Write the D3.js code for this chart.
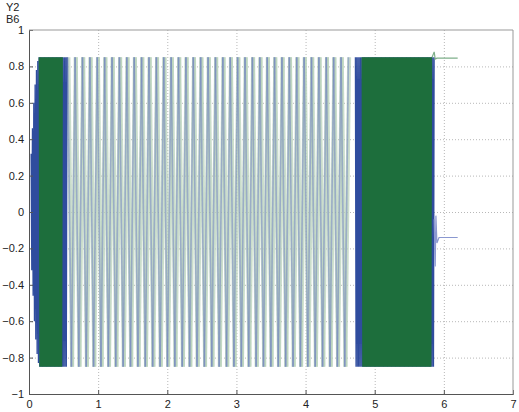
<!DOCTYPE html>
<head>
<meta charset="utf-8">
<title>Y2 B6</title>
<script src="https://d3js.org/d3.v7.min.js"></script>
</head>
<style>
body { margin: 0; background: #fff; }
text { font-family: "Liberation Sans", Arial, sans-serif; font-size: 11px; fill: #222; }
.grid line { stroke: #b8b8b8; stroke-dasharray: 1,2; }
</style>
<body>
<svg id="chart"></svg>
<script>
// axes
var xTicks = [0, 1, 2, 3, 4, 5, 6, 7];
var yTicks = [-1, -0.8, -0.6, -0.4, -0.2, 0, 0.2, 0.4, 0.6, 0.8, 1];

// oscillation blocks: start, end, number of cycles
var blueStart  = [0.03, 0.56, 4.72];
var blueEnd    = [0.55, 4.62, 5.86];
var greenStart = [0.15, 0.57, 4.82];
var greenEnd   = [0.48, 4.63, 5.82];
var blueCycles  = [27, 38, 60];
var greenCycles = [17, 38, 52];
var peak = 0.85;
// first peaks of the blue start-up grow before reaching the full swing
var startPeaks = [0.32, 0.46, 0.6, 0.7, 0.78, 0.83];

// what is left after the oscillation stops
var blueTailX  = [5.86, 5.875, 5.885, 5.9, 5.93, 6.2];
var blueTailY  = [-0.04, -0.3, -0.02, -0.17, -0.14, -0.14];
var greenTailX = [5.83, 5.86, 5.875, 5.9, 6.2];
var greenTailY = [0.85, 0.88, 0.84, 0.845, 0.845];

var width = 519, height = 412;
var svg = d3.select('#chart').attr('width', width).attr('height', height);

var x = d3.scaleLinear().domain([0, 7]).range([29, 513]);
var y = d3.scaleLinear().domain([-1, 1]).range([394, 30]);

// grid
var grid = svg.append('g').attr('class', 'grid');
grid.selectAll('.gx').data(xTicks.slice(1, -1)).enter().append('line')
    .attr('x1', function (d) { return x(d) + 0.5; }).attr('x2', function (d) { return x(d) + 0.5; })
    .attr('y1', y(-1)).attr('y2', y(1));
grid.selectAll('.gy').data(yTicks.slice(1, -1)).enter().append('line')
    .attr('y1', function (d) { return y(d) + 0.5; }).attr('y2', function (d) { return y(d) + 0.5; })
    .attr('x1', x(0)).attr('x2', x(7));

// turning points of one oscillation block
function block(t0, t1, cycles, grow) {
    var pts = [];
    var n = cycles * 2;
    var step = (t1 - t0) / n;
    for (var i = 0; i <= n; i++) {
        var k = Math.floor(i / 2);
        var a = (grow && k < startPeaks.length) ? startPeaks[k] : peak;
        pts.push([t0 + i * step, (i % 2 ? -a : a)]);
    }
    return pts;
}

var line = d3.line().x(function (d) { return x(d[0]); }).y(function (d) { return y(d[1]); });
var plot = svg.append('g');

// sparse middle block: each stroke drawn on its own so crossings darken
function strokes(pts, color, w, op) {
    plot.append('g').selectAll('line').data(d3.pairs(pts)).enter().append('line')
        .attr('x1', function (d) { return x(d[0][0]); }).attr('y1', function (d) { return y(d[0][1]); })
        .attr('x2', function (d) { return x(d[1][0]); }).attr('y2', function (d) { return y(d[1][1]); })
        .attr('stroke', color).attr('stroke-width', w).attr('stroke-opacity', op);
}
strokes(block(greenStart[1], greenEnd[1], greenCycles[1], false), '#b9d3bb', 4, 0.75);
strokes(block(blueStart[1], blueEnd[1], blueCycles[1], false), '#6a7bc0', 1.6, 0.5);

// dense blocks: blue below, green above
[0, 2].forEach(function (s) {
    plot.append('path').datum(block(blueStart[s], blueEnd[s], blueCycles[s], s === 0)).attr('d', line)
        .attr('fill', 'none').attr('stroke', '#2f4c9e').attr('stroke-width', 1.2);
});
[0, 2].forEach(function (s) {
    plot.append('path').datum(block(greenStart[s], greenEnd[s], greenCycles[s], false)).attr('d', line)
        .attr('fill', 'none').attr('stroke', '#1d6e3c').attr('stroke-width', 1.4);
});

// tails
plot.append('path').datum(d3.zip(blueTailX, blueTailY)).attr('d', line)
    .attr('fill', 'none').attr('stroke', '#8a98d0').attr('stroke-width', 1.2);
plot.append('path').datum(d3.zip(greenTailX, greenTailY)).attr('d', line)
    .attr('fill', 'none').attr('stroke', '#7fb08a').attr('stroke-width', 1.2);

// axes box
var xAxis = d3.axisBottom(x).tickValues(xTicks).tickSize(-4).tickPadding(6).tickFormat(d3.format('d'));
var yAxis = d3.axisLeft(y).tickValues(yTicks).tickSize(-4).tickPadding(5).tickFormat(function (d) { return d === 0 ? '0' : d3.format('.1~f')(d); });

var gx = svg.append('g').attr('transform', 'translate(0,' + y(-1) + ')').call(xAxis);
var gy = svg.append('g').attr('transform', 'translate(' + x(0) + ',0)').call(yAxis);
[gx, gy].forEach(function (g) {
    g.select('.domain').attr('stroke', '#555');
    g.selectAll('.tick line').attr('stroke', '#555');
    g.selectAll('text').attr('fill', '#222').style('font-size', '11px');
});
svg.append('line').attr('x1', x(0)).attr('x2', x(7)).attr('y1', y(1)).attr('y2', y(1)).attr('stroke', '#999');
svg.append('line').attr('x1', x(7)).attr('x2', x(7)).attr('y1', y(1)).attr('y2', y(-1)).attr('stroke', '#999');

svg.append('text').attr('x', 6).attr('y', 11).text('Y2');
svg.append('text').attr('x', 6).attr('y', 23).text('B6');
</script>
</body>
